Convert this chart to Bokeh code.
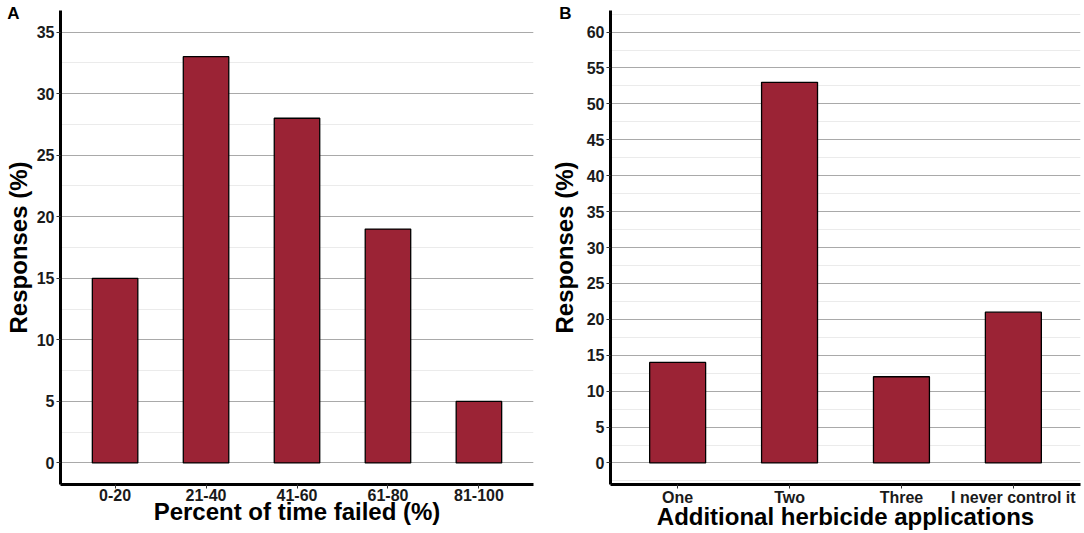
from bokeh.plotting import figure
from bokeh.models import (Range1d, FactorRange, SingleIntervalTicker, FixedTicker,
                          LinearAxis, CustomJSTickFormatter)
from bokeh.layouts import row
from bokeh.embed import file_html
from bokeh.resources import INLINE

# Panel A data
cats_a = ["0-20", "21-40", "41-60", "61-80", "81-100"]
vals_a = [15, 33, 28, 19, 5]
# Panel B data
cats_b = ["One", "Two", "Three", "I never control it"]
vals_b = [14, 53, 12, 21]

FONT = "Liberation Sans"
BAR = "#9b2335"


def make(cats, vals, ymax, xlabel, tag, width, bl, br, tag_y, tag_standoff, title_standoff):
    pad = ymax * 0.05
    p = figure(
        width=width, height=533,
        x_range=FactorRange(factors=cats, range_padding=0.1, range_padding_units="absolute"),
        y_range=Range1d(-pad, ymax + pad),
        output_backend="svg", toolbar_location=None,
        min_border_left=bl, min_border_right=br, min_border_top=10, min_border_bottom=49,
    )
    p.outline_line_color = None
    p.vbar(x=cats, top=vals, width=0.5, fill_color=BAR, line_color="black", line_width=1.3)

    p.yaxis.ticker = SingleIntervalTicker(interval=5, num_minor_ticks=2)
    p.ygrid.grid_line_color = "#a9a9a9"
    p.ygrid.grid_line_width = 1
    p.ygrid.minor_grid_line_color = "#ebebeb"
    p.xgrid.grid_line_color = None

    for ax in (p.xaxis, p.yaxis):
        ax.axis_line_color = "black"
        ax.axis_line_width = 3
        ax.major_tick_line_color = "#333333"
        ax.major_tick_line_width = 1
        ax.major_tick_in = 0
        ax.major_tick_out = 4
        ax.minor_tick_line_color = None
        ax.major_label_text_font = FONT
        ax.major_label_text_font_style = "bold"
        ax.major_label_text_font_size = "16px"
        ax.major_label_text_color = "#1a1a1a"
        ax.axis_label_text_font = FONT
        ax.axis_label_text_font_style = "bold"
        ax.axis_label_text_font_size = "24px"
        ax.axis_label_text_color = "black"
    p.xaxis.major_label_standoff = 0
    p.yaxis.major_label_standoff = 2
    p.xaxis.axis_label_standoff = -6
    p.xaxis.axis_label = xlabel

    # outer left axis carrying the panel tag and the y title
    outer = LinearAxis(
        ticker=FixedTicker(ticks=[tag_y]),
        formatter=CustomJSTickFormatter(code="return '%s';" % tag),
        axis_line_color=None, major_tick_line_color=None, minor_tick_line_color=None,
        major_tick_in=0, major_tick_out=0,
        major_label_standoff=tag_standoff,
        major_label_text_font=FONT, major_label_text_font_style="bold",
        major_label_text_font_size="17px", major_label_text_color="black",
        axis_label="Responses (%)", axis_label_standoff=title_standoff,
        axis_label_text_font=FONT, axis_label_text_font_style="bold",
        axis_label_text_font_size="24px", axis_label_text_color="black",
    )
    p.add_layout(outer, "left")
    return p


pa = make(cats_a, vals_a, 35, "Percent of time failed (%)", "A", 545, 60, 12, 36.5, 14, -28)
pb = make(cats_b, vals_b, 60, "Additional herbicide applications", "B", 539, 65, 4, 62.6, 12, -22)

layout = row(pa, pb)
open("out.html", "w").write(file_html(layout, INLINE))
